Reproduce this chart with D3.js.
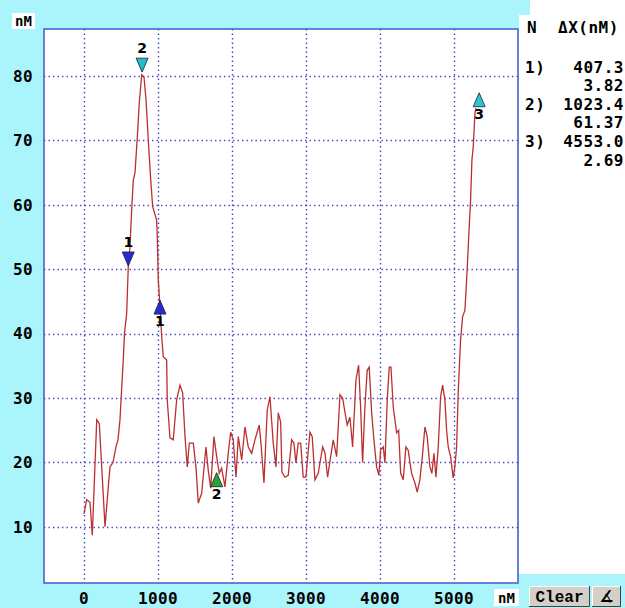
<!DOCTYPE html>
<html>
<head>
<meta charset="utf-8">
<script src="https://cdn.jsdelivr.net/npm/d3@7"></script>
<style>
  html, body { margin: 0; padding: 0; background: #aaf4fc; }
  svg { display: block; }
  .mono { font-family: "DejaVu Sans Mono", monospace; font-weight: bold; font-size: 16px; }
</style>
</head>
<body>
<svg id="chart" width="625" height="608"></svg>
<script>
// trace: [concentration nM, reading nM]
const trace = [
  [0, 12.0], [36, 14.2], [81, 13.8], [112, 8.7], [172, 26.6], [207, 26.0], [284, 10.0],
  [351, 19.3], [392, 20.0], [432, 22.4], [459, 23.5], [486, 26.6], [513, 32.3], [531, 36],
  [547, 40], [577, 43.2], [598, 50.3], [621, 53.4], [644, 59.2], [666, 63.8], [689, 65],
  [720, 70.4], [747, 75.8], [780, 80.2], [811, 79.8], [838, 76.3], [869, 70], [901, 64],
  [928, 59.7], [982, 57.6], [990, 55], [1004, 48.3], [1027, 44.1], [1050, 39.5], [1071, 36.4],
  [1117, 35.9], [1125, 29.7], [1162, 23.8], [1206, 23.5], [1252, 29.7], [1297, 32], [1333, 30.8],
  [1365, 24], [1396, 19.3], [1423, 23], [1477, 23], [1513, 19.3], [1544, 13.7], [1590, 15.2],
  [1648, 22.4], [1679, 18.8], [1712, 16], [1756, 24], [1793, 20.9], [1828, 18.3], [1860, 19.1],
  [1905, 16.2], [1949, 21.4], [1982, 24.7], [2017, 23.5], [2054, 17.7], [2085, 24], [2131, 20.4],
  [2175, 25.5], [2220, 22.4], [2266, 21.4], [2310, 23.5], [2368, 25.8], [2391, 23], [2432, 16.8],
  [2476, 28.1], [2513, 30.2], [2557, 23], [2594, 19.3], [2625, 27.7], [2657, 26.3], [2675, 18.5],
  [2716, 17.7], [2760, 18], [2806, 23.5], [2837, 23], [2864, 19.9], [2895, 23], [2928, 23],
  [2963, 17.7], [2999, 17.7], [3053, 24.7], [3084, 24], [3121, 17.3], [3165, 18.3], [3225, 22.4],
  [3256, 21.5], [3292, 17.7], [3333, 20.9], [3368, 23.5], [3414, 20.9], [3459, 30.5], [3495, 30],
  [3526, 27.8], [3557, 25.8], [3594, 27], [3630, 22.4], [3675, 32.8], [3711, 35.1], [3738, 28.6],
  [3765, 20], [3796, 28.6], [3827, 34.3], [3854, 34.8], [3887, 27.7], [3918, 23.5], [3954, 19.3],
  [3985, 18], [4008, 21.9], [4044, 22.4], [4067, 19.9], [4098, 29.7], [4125, 34.8], [4148, 34.8],
  [4179, 28.6], [4225, 24.6], [4252, 25], [4279, 18.3], [4314, 17.3], [4350, 22.4], [4381, 21.9],
  [4427, 18.3], [4472, 16.8], [4503, 15.4], [4539, 17.3], [4576, 21.4], [4607, 25.5], [4638, 24],
  [4674, 19.3], [4701, 18.3], [4729, 21.4], [4756, 17.7], [4787, 22.4], [4819, 30.2], [4846, 32],
  [4877, 29.7], [4900, 25], [4922, 22.4], [4954, 20.9], [4989, 17.6], [5012, 19.3], [5035, 22.4],
  [5057, 30.8], [5070, 34.3], [5089, 39], [5116, 42.6], [5147, 43.6], [5161, 46.3], [5184, 51.4],
  [5205, 56.5], [5224, 60.7], [5242, 66.9], [5260, 69], [5283, 74.2], [5296, 75]
];

const X_TICKS = [0, 1000, 2000, 3000, 4000, 5000];
const Y_TICKS = [10, 20, 30, 40, 50, 60, 70, 80];

// cursor markers: x, y, pointing direction, label, colour
const markers = [
  { x: 598, y: 50.5, dir: "down", label: "1", color: "#2a2ad0" },
  { x: 1027, y: 45.2, dir: "up", label: "1", color: "#2a2ad0" },
  { x: 785, y: 80.6, dir: "down", label: "2", color: "#22bcc4" },
  { x: 1793, y: 18.4, dir: "up", label: "2", color: "#2ea42e" },
  { x: 5340, y: 77.4, dir: "up", label: "3", color: "#30c4cc" }
];

const panelNums = ["1)", "", "2)", "", "3)", ""];
const panelVals = ["407.3", "3.82", "1023.4", "61.37", "4553.0", "2.69"];

// layout
const PLOT = { left: 44, top: 29, right: 518, bottom: 583 };

const svg = d3.select("#chart");

const X_fxn = d3.scaleLinear().domain([0, 5000]).range([84, 454]);
const Y_fxn = d3.scaleLinear().domain([0, 80]).range([591.2, 76]);

// right info panel
svg.append("rect").attr("x", 519).attr("y", 15).attr("width", 106).attr("height", 559).attr("fill", "#fff");
svg.append("rect").attr("x", 530).attr("y", 0).attr("width", 95).attr("height", 16).attr("fill", "#fff");

// plot area
svg.append("rect")
  .attr("x", PLOT.left).attr("y", PLOT.top)
  .attr("width", PLOT.right - PLOT.left).attr("height", PLOT.bottom - PLOT.top)
  .attr("fill", "#fff");

const grid = svg.append("g")
  .attr("stroke", "#4545c0").attr("stroke-width", 1.4).attr("stroke-dasharray", "1.4,3.1");
grid.selectAll(".vx").data(X_TICKS).join("line")
  .attr("x1", d => Math.round(X_fxn(d)) + 0.5).attr("x2", d => Math.round(X_fxn(d)) + 0.5)
  .attr("y1", PLOT.top).attr("y2", PLOT.bottom);
grid.selectAll(".hy").data(Y_TICKS).join("line")
  .attr("y1", d => Math.round(Y_fxn(d)) + 0.5).attr("y2", d => Math.round(Y_fxn(d)) + 0.5)
  .attr("x1", PLOT.left).attr("x2", PLOT.right);

const line_fxn = d3.line().x(d => X_fxn(d[0])).y(d => Y_fxn(d[1]));
svg.append("path").datum(trace)
  .attr("d", line_fxn)
  .attr("fill", "none").attr("stroke", "#ba3030").attr("stroke-width", 1.3);

svg.append("rect")
  .attr("x", PLOT.left).attr("y", PLOT.top)
  .attr("width", PLOT.right - PLOT.left).attr("height", PLOT.bottom - PLOT.top)
  .attr("fill", "none").attr("stroke", "#4c62d4").attr("stroke-width", 1.6);

// markers
const mk = svg.append("g");
markers.forEach(m => {
  const px = X_fxn(m.x), py = Y_fxn(m.y);
  const w = 6, h = 14;
  const pts = m.dir === "down"
    ? [[px, py], [px - w, py - h], [px + w, py - h]]
    : [[px, py], [px - w, py + h], [px + w, py + h]];
  mk.append("polygon")
    .attr("points", pts.map(p => p.join(",")).join(" "))
    .attr("fill", m.color).attr("stroke", "#1a1a40").attr("stroke-width", 0.8);
  mk.append("text")
    .attr("x", px).attr("y", m.dir === "down" ? py - h - 5 : py + h + 12)
    .attr("text-anchor", "middle")
    .style("font-family", "DejaVu Sans, sans-serif").style("font-weight", "bold").style("font-size", "14px")
    .text(m.label);
});

// axis labels
svg.append("g").attr("class", "mono").selectAll("text").data(Y_TICKS).join("text")
  .attr("x", 13).attr("y", d => Y_fxn(d)).attr("dy", "0.36em")
  .style("letter-spacing", "0.4px")
  .text(d => d);
svg.append("g").attr("class", "mono").selectAll("text").data(X_TICKS).join("text")
  .attr("x", d => X_fxn(d)).attr("y", 598).attr("dy", "0.36em")
  .attr("text-anchor", "middle")
  .style("letter-spacing", "0.4px")
  .text(d => d);

// unit boxes
svg.append("rect").attr("x", 12).attr("y", 13).attr("width", 23).attr("height", 16).attr("fill", "#fff");
svg.append("text").attr("class", "mono").attr("x", 23.5).attr("y", 21).attr("dy", "0.36em")
  .attr("text-anchor", "middle").style("font-size", "14px").text("nM");
svg.append("rect").attr("x", 494).attr("y", 589).attr("width", 25).attr("height", 17).attr("fill", "#fff");
svg.append("text").attr("class", "mono").attr("x", 506.5).attr("y", 597.5).attr("dy", "0.36em")
  .attr("text-anchor", "middle").style("font-size", "14px").text("nM");

// buttons
function button(x, y, w, h, label, font) {
  const g = svg.append("g");
  g.append("rect").attr("x", x).attr("y", y).attr("width", w).attr("height", h).attr("fill", "#d4d0c8");
  g.append("path").attr("d", `M${x + 0.5},${y + h} V${y + 0.5} H${x + w}`).attr("stroke", "#fff").attr("fill", "none");
  g.append("path").attr("d", `M${x},${y + h - 0.5} H${x + w - 0.5} V${y}`).attr("stroke", "#404040").attr("fill", "none");
  g.append("text").attr("x", x + w / 2).attr("y", y + h / 2).attr("dy", "0.36em")
    .attr("text-anchor", "middle")
    .style("font-family", font).style("font-weight", "bold").style("font-size", "16px")
    .text(label);
}
button(529, 586, 61, 21, "Clear", "Liberation Mono, monospace");
button(592, 586, 29, 21, "∡", "DejaVu Sans, sans-serif");

// info panel text
const panel = svg.append("g").attr("class", "mono").style("letter-spacing", "0.5px");
panel.append("text").attr("x", 527).attr("y", 27).attr("dy", "0.36em").text("N");
panel.append("text").attr("x", 558).attr("y", 27).attr("dy", "0.36em").text("ΔX(nM)");
const rowY = [67, 85, 104, 122, 141, 160];
panel.selectAll(".num").data(panelNums).join("text")
  .attr("x", 525).attr("y", (d, i) => rowY[i]).attr("dy", "0.36em").text(d => d);
panel.selectAll(".val").data(panelVals).join("text")
  .attr("x", 624).attr("y", (d, i) => rowY[i]).attr("dy", "0.36em")
  .attr("text-anchor", "end").text(d => d);
</script>
</body>
</html>
